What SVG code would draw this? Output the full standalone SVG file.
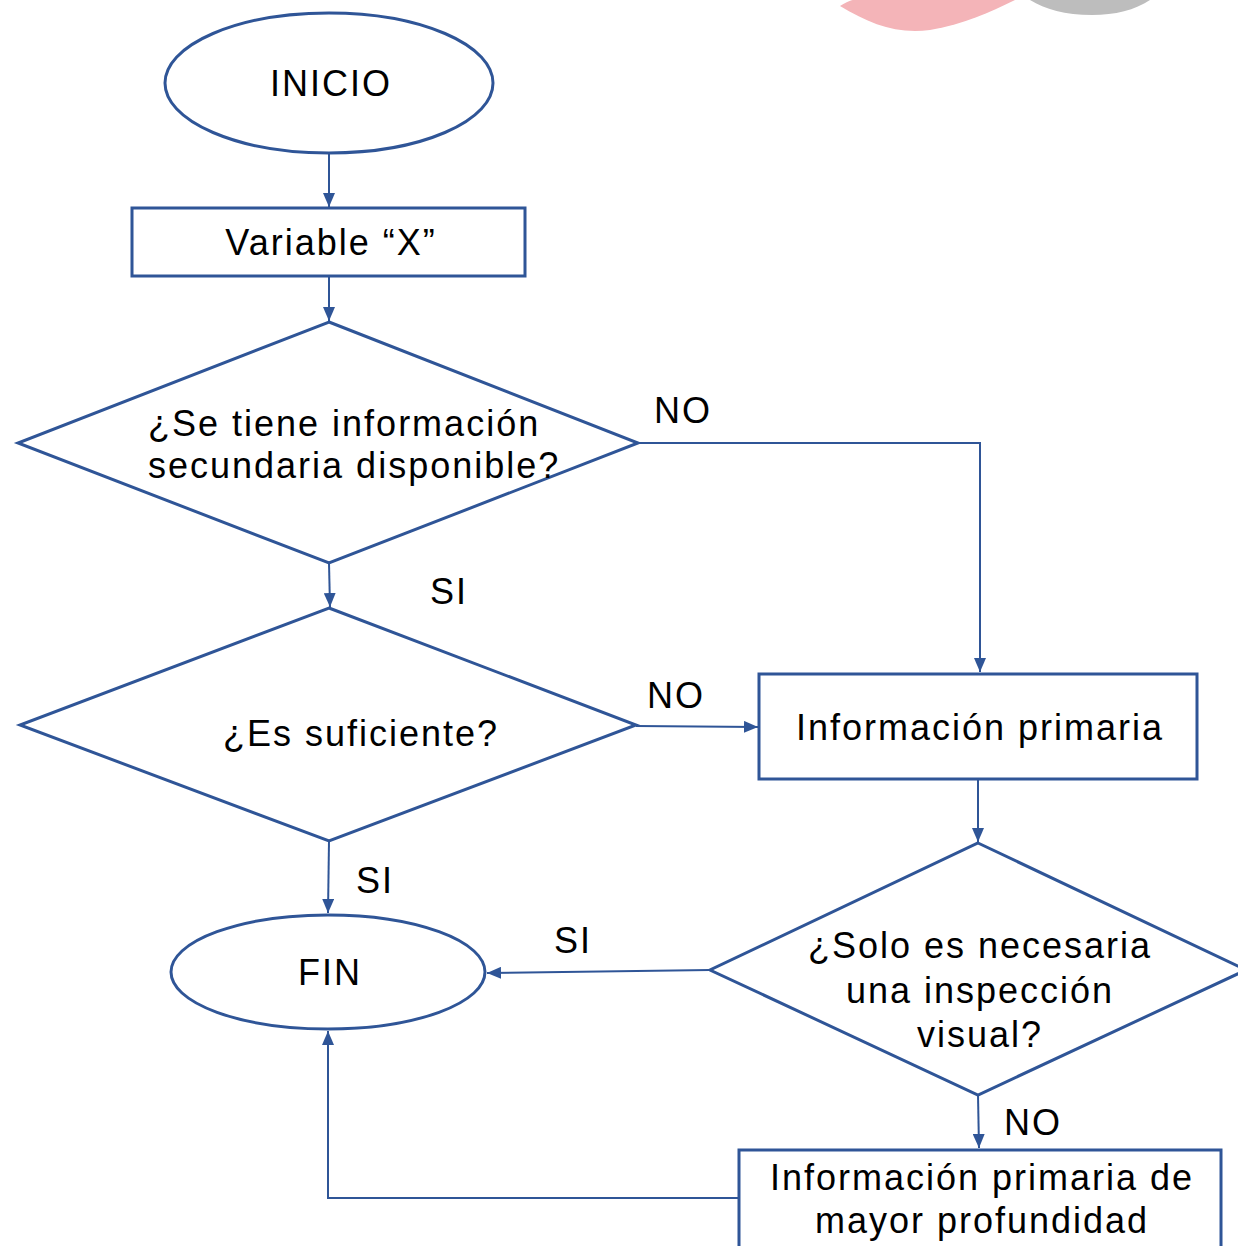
<svg xmlns="http://www.w3.org/2000/svg" width="1238" height="1246" viewBox="0 0 1238 1246">
<defs>
<style>
.shape{fill:#fff;stroke:#2F5597;stroke-width:3}
.conn{fill:none;stroke:#2F5597;stroke-width:2}
text{font-family:"Liberation Sans",Arial,sans-serif;font-size:36px;letter-spacing:2px;fill:#000}
.c{text-anchor:middle}
</style>
<marker id="ah" viewBox="0 0 14 12" refX="14" refY="6" markerWidth="14" markerHeight="12" markerUnits="userSpaceOnUse" orient="auto"><path d="M0,0 L14,6 L0,12 z" fill="#2F5597"/></marker>
</defs>
<rect width="1238" height="1246" fill="#fff"/>
<g id="logo">
<path d="M840,6 C850,0 852,0 855,0 L1015,0 C990,12 965,24 930,30 C895,34 870,24 840,6 z" fill="#F4B4B8"/>
<path d="M1030,0 L1150,0 C1135,10 1115,15 1092,15 C1065,15 1045,9 1030,0 z" fill="#BDBDBD"/>
</g>
<g id="connectors">
<path class="conn" d="M329,153 L329,207" marker-end="url(#ah)"/>
<path class="conn" d="M329,276 L329,321" marker-end="url(#ah)"/>
<path class="conn" d="M638,443 L980,443 L980,672" marker-end="url(#ah)"/>
<path class="conn" d="M329,563 L330,607" marker-end="url(#ah)"/>
<path class="conn" d="M636,726 L758,727" marker-end="url(#ah)"/>
<path class="conn" d="M978,779 L978,842" marker-end="url(#ah)"/>
<path class="conn" d="M329,841 L328,913" marker-end="url(#ah)"/>
<path class="conn" d="M710,970 L487,973" marker-end="url(#ah)"/>
<path class="conn" d="M978,1095 L979,1148" marker-end="url(#ah)"/>
<path class="conn" d="M739,1198 L328,1198 L328,1031" marker-end="url(#ah)"/>
</g>
<g id="labels">
<text x="654" y="423">NO</text>
<text x="430" y="604">SI</text>
<text x="647" y="708">NO</text>
<text x="356" y="893">SI</text>
<text x="554" y="953">SI</text>
<text x="1004" y="1135">NO</text>
</g>
<g id="inicio">
<ellipse class="shape" cx="329" cy="83" rx="164" ry="70"/>
<text class="c" x="331" y="96">INICIO</text>
</g>
<g id="variable">
<rect class="shape" x="132" y="208" width="393" height="68"/>
<text class="c" x="331" y="255">Variable “X”</text>
</g>
<g id="d1">
<polygon class="shape" points="329,322 638,443 329,563 18,443"/>
<text x="148" y="436">¿Se tiene información</text>
<text x="148" y="478">secundaria disponible?</text>
</g>
<g id="d2">
<polygon class="shape" points="329,608 636,725 329,841 20,725"/>
<text class="c" x="361" y="746">¿Es suficiente?</text>
</g>
<g id="infoprim">
<rect class="shape" x="759" y="674" width="438" height="105"/>
<text class="c" x="980" y="740">Información primaria</text>
</g>
<g id="d3">
<polygon class="shape" points="978,843 1246,970 978,1095 710,970"/>
<text class="c" x="980" y="958">¿Solo es necesaria</text>
<text class="c" x="980" y="1003">una inspección</text>
<text class="c" x="980" y="1047">visual?</text>
</g>
<g id="fin">
<ellipse class="shape" cx="328" cy="972" rx="157" ry="57"/>
<text class="c" x="330" y="985">FIN</text>
</g>
<g id="infoprof">
<rect class="shape" x="739" y="1150" width="482" height="110"/>
<text class="c" x="982" y="1190">Información primaria de</text>
<text class="c" x="982" y="1233">mayor profundidad</text>
</g>
</svg>
